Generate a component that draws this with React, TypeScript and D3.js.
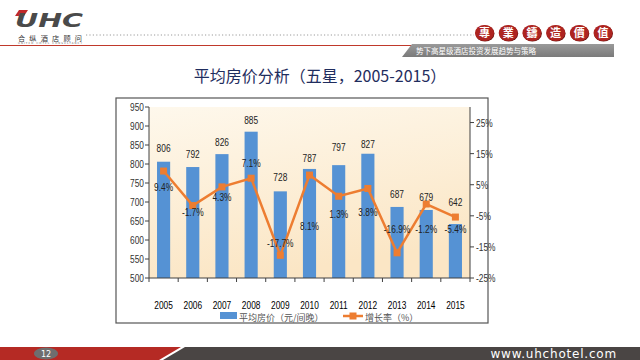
import React from "react";
import * as d3 from "d3";

const years = ["2005","2006","2007","2008","2009","2010","2011","2012","2013","2014","2015"];
const avgRate = [806, 792, 826, 885, 728, 787, 797, 827, 687, 679, 642];
const growth = [9.4, -1.7, 4.3, 7.1, -17.7, 8.1, 1.3, 3.8, -16.9, -1.2, -5.4];
const leftTicks = [500, 550, 600, 650, 700, 750, 800, 850, 900, 950];
const rightTicks = [-25, -15, -5, 5, 15, 25];
const seriesNames = ["平均房价（元/间晚）", "增长率（%）"];
const badgeChars = ["專", "業", "鑄", "造", "價", "值"];

// layout tweaks for label placement (pixels)
const valueLabelDy = [-10, -9, -8.5, -8, -10, -7, -14, -6, -9, -9, -18];
const pctLabelDy = [20, 10, 14, -11, -8, 55, 22, 28, -20, 29, 16];

const SANS = "'Liberation Sans', Arial, sans-serif";
const CJK = "'Noto Sans CJK SC', 'Noto Sans', sans-serif";

function NT(props: { x: number; y: number; anchor?: string; size?: number; fill?: string; children: React.ReactNode }) {
  const { x, y, anchor = "middle", size = 11, fill = "#222", children } = props;
  return (
    <text transform={`translate(${x},${y}) scale(0.76,1)`} textAnchor={anchor} fontFamily={SANS} fontSize={size} fill={fill}>
      {children}
    </text>
  );
}

export default function App() {
  const W = 640, H = 360;
  const plotL = 149, plotR = 470, plotT = 107, plotB = 278;

  const x = d3.scaleBand<string>().domain(years).range([plotL, plotR]).paddingInner(0.55).paddingOuter(0.275);
  const yL = d3.scaleLinear().domain([500, 950]).range([plotB, plotT]);
  const yR = d3.scaleLinear().domain([-25, 30]).range([plotB, plotT]);
  const cx = (i: number) => (x(years[i]) as number) + x.bandwidth() / 2;

  const line = d3.line<number>().x((_, i) => cx(i)).y((d) => yR(d));
  const step = x.step();
  const boundaries = d3.range(years.length + 1).map((i) => plotL + i * step);

  return (
    <svg width={W} height={H} style={{ position: "absolute", left: 0, top: 0, background: "#fff" }}>
      <defs>
        <linearGradient id="plotbg" x1="0" y1="0" x2="0.3" y2="1">
          <stop offset="0" stopColor="#FEF8EC" />
          <stop offset="1" stopColor="#FBE6C5" />
        </linearGradient>
        <linearGradient id="band" x1="0" y1="0" x2="0" y2="1">
          <stop offset="0" stopColor="#9a9a9a" />
          <stop offset="1" stopColor="#7a7a7a" />
        </linearGradient>
      </defs>

      {/* Header */}
      <polygon points="19,10 28,10 24,16 15,16" fill="#C0282A" />
      <text x={15} y={27} fontFamily="'DejaVu Sans', sans-serif" fontWeight="bold" fontStyle="italic" fontSize={19} fill="#4a4a4a" textLength={68} lengthAdjust="spacingAndGlyphs">UHC</text>
      <text x={18} y={40.5} fontFamily={CJK} fontSize={7.2} fill="#333" textLength={64}>合纵酒店顾问</text>
      <text x={18} y={44} fontFamily="'DejaVu Sans', sans-serif" fontSize={2.6} fill="#666" textLength={64}>UNITED HOTEL CONSULTANCY</text>
      <line x1={86} y1={35} x2={474} y2={35} stroke="#9a9a9a" strokeWidth={1} strokeDasharray="1.2,2.2" />
      <line x1={0} y1={45.5} x2={412} y2={45.5} stroke="#C0392B" strokeWidth={1.2} />
      <polygon points="412,44 614,44 614,57 402,57" fill="url(#band)" />
      <text x={416} y={53.5} fontFamily={CJK} fontSize={7.5} fill="#fff">势下高星级酒店投资发展趋势与策略</text>
      {badgeChars.map((c, i) => (
        <g key={c}>
          <ellipse cx={485 + i * 23.7} cy={33.5} rx={9.5} ry={8} fill="#6b1512" />
          <ellipse cx={484.5 + i * 23.7} cy={33} rx={9.5} ry={8} fill="#AE2420" />
          <text x={484.5 + i * 23.7} y={37} textAnchor="middle" fontFamily={CJK} fontWeight="bold" fontSize={11} fill="#fff">{c}</text>
        </g>
      ))}

      {/* Title */}
      <text x={320} y={82} textAnchor="middle" fontFamily={CJK} fontSize={16} fill="#1F2D5E">平均房价分析（五星，2005-2015）</text>

      {/* Chart frame */}
      <rect x={116} y={98} width={372} height={225} fill="#fff" stroke="#555" strokeWidth={1.2} />
      <rect x={plotL} y={plotT} width={plotR - plotL} height={plotB - plotT} fill="url(#plotbg)" />

      {/* Bars */}
      {avgRate.map((v, i) => (
        <rect key={years[i]} x={x(years[i])} y={yL(v)} width={x.bandwidth()} height={plotB - yL(v)} fill="#5592D4" />
      ))}

      {/* Axes */}
      <line x1={plotL} y1={plotT} x2={plotL} y2={plotB} stroke="#404040" strokeWidth={1} />
      <line x1={plotR} y1={plotT} x2={plotR} y2={plotB} stroke="#404040" strokeWidth={1} />
      <line x1={plotL} y1={plotB} x2={plotR} y2={plotB} stroke="#404040" strokeWidth={1} />
      {leftTicks.map((t) => (
        <g key={t}>
          <line x1={plotL - 4} x2={plotL} y1={yL(t)} y2={yL(t)} stroke="#404040" />
          <NT x={plotL - 5} y={yL(t) + 4} anchor="end" fill="#333">{t}</NT>
        </g>
      ))}
      {rightTicks.map((t) => (
        <g key={t}>
          <line x1={plotR} x2={plotR + 4} y1={yR(t)} y2={yR(t)} stroke="#404040" />
          <NT x={plotR + 6} y={yR(t) + 4} anchor="start" fill="#333">{t + "%"}</NT>
        </g>
      ))}
      {boundaries.map((b, i) => (
        <line key={i} x1={b} x2={b} y1={plotB} y2={plotB + 4} stroke="#404040" />
      ))}
      {years.map((yv, i) => (
        <NT key={yv} x={cx(i)} y={308.5} fill="#000">{yv}</NT>
      ))}

      {/* Line series */}
      <path d={line(growth) || ""} fill="none" stroke="#ED7D31" strokeWidth={2.5} />
      {growth.map((g, i) => (
        <rect key={i} x={cx(i) - 3.5} y={yR(g) - 3.5} width={7} height={7} fill="#ED7D31" />
      ))}

      {/* Data labels */}
      {avgRate.map((v, i) => (
        <NT key={"v" + i} x={cx(i)} y={yL(v) + valueLabelDy[i]}>{v}</NT>
      ))}
      {growth.map((g, i) => (
        <NT key={"g" + i} x={cx(i)} y={yR(g) + pctLabelDy[i]}>{g.toFixed(1) + "%"}</NT>
      ))}

      {/* Legend */}
      <rect x={220} y={312} width={17} height={7} fill="#5592D4" />
      <text x={239} y={320.5} fontFamily={CJK} fontSize={9} fill="#555">{seriesNames[0]}</text>
      <line x1={343} x2={363} y1={316} y2={316} stroke="#ED7D31" strokeWidth={2.5} />
      <rect x={349.5} y={312.5} width={7} height={7} fill="#ED7D31" />
      <text x={365} y={320.5} fontFamily={CJK} fontSize={9} fill="#555">{seriesNames[1]}</text>

      {/* Footer */}
      <polygon points="0,347 181,347 159,360 0,360" fill="#B52A24" />
      <polygon points="185,347 640,347 640,360 163,360" fill="#4A4544" />
      <ellipse cx={46} cy={353.5} rx={12} ry={6} fill="#6e6e6e" />
      <text x={46} y={356.5} textAnchor="middle" fontFamily="'DejaVu Sans', sans-serif" fontSize={8} fill="#fff">12</text>
      <text x={617} y={358} textAnchor="end" fontFamily="'DejaVu Sans', sans-serif" fontSize={12} letterSpacing={0.8} fill="#fff">www.uhchotel.com</text>
    </svg>
  );
}
